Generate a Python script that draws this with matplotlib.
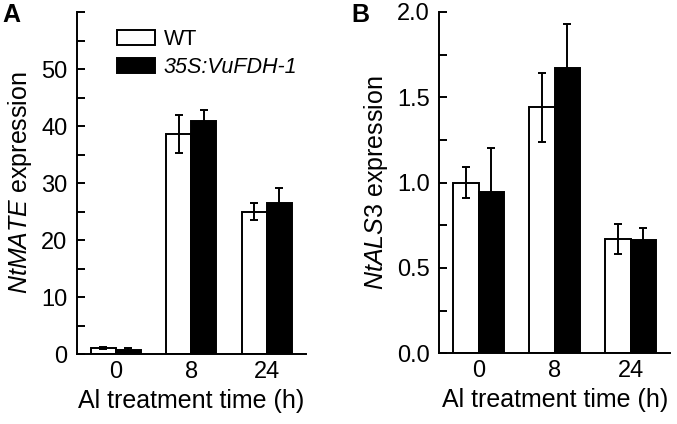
import matplotlib
matplotlib.use("Agg")
import matplotlib.pyplot as plt
import numpy as np

plt.rcParams['font.family'] = ['Liberation Sans', 'DejaVu Sans']
plt.rcParams['mathtext.fontset'] = 'custom'
plt.rcParams['mathtext.rm'] = 'Liberation Sans'
plt.rcParams['mathtext.it'] = 'Liberation Sans:italic'

times = ['0', '8', '24']
series = ['WT', '35S:VuFDH-1']

mate_wt = [1.0, 38.6, 25.0]
mate_wt_err = [0.2, 3.4, 1.5]
mate_tg = [0.7, 40.9, 26.5]
mate_tg_err = [0.4, 1.9, 2.7]

als_wt = [1.0, 1.44, 0.67]
als_wt_err = [0.09, 0.20, 0.09]
als_tg = [0.945, 1.67, 0.665]
als_tg_err = [0.26, 0.26, 0.07]

mate_ticklabels = ['0', '10', '20', '30', '40', '50', '']
als_ticklabels = ['0.0', '0.5', '1.0', '1.5', '2.0']

fig = plt.figure(figsize=(6.77, 4.24), dpi=100)
axA = fig.add_axes([0.1137, 0.165, 0.452 - 0.1137, 0.9717 - 0.165])
axB = fig.add_axes([0.649, 0.1667, 0.9897 - 0.649, 0.972 - 0.1667])

TFS = 17
LFS = 18
LW = 1.4
w = 0.33
x = np.arange(len(times))

def panel(ax, wt, wte, tg, tge, ylim, major, minor, ylabel_it, ticklabels):
    ax.bar(x - w/2, wt, w, color='white', edgecolor='black', linewidth=LW, zorder=2, label=series[0])
    ax.bar(x + w/2, tg, w, color='black', edgecolor='black', linewidth=LW, zorder=2, label=series[1])
    ax.errorbar(x - w/2, wt, yerr=wte, fmt='none', ecolor='black', elinewidth=LW, capsize=3, capthick=LW, zorder=3)
    ax.errorbar(x + w/2, tg, yerr=tge, fmt='none', ecolor='black', elinewidth=LW, capsize=3, capthick=LW, zorder=3)
    ax.set_xlim(-0.515, 2.52)
    ax.set_ylim(*ylim)
    ax.set_yticks(np.arange(ylim[0], ylim[1] + 1e-9, major))
    ax.set_yticks(np.arange(ylim[0], ylim[1] + 1e-9, minor), minor=True)
    ax.set_yticklabels(ticklabels)
    ax.set_xticks(x)
    ax.set_xticklabels(times)
    ax.spines['top'].set_visible(False)
    ax.spines['right'].set_visible(False)
    ax.spines['left'].set_linewidth(LW)
    ax.spines['bottom'].set_linewidth(LW)
    ax.tick_params(axis='y', which='both', direction='in', length=6, width=LW, labelsize=TFS, pad=7)
    ax.tick_params(axis='x', length=0, labelsize=TFS, pad=5)
    ax.set_xlabel('Al treatment time (h)', fontsize=LFS, labelpad=4)
    ax.set_ylabel(r'$\mathit{' + ylabel_it + '}$ expression', fontsize=LFS, labelpad=5)

panel(axA, mate_wt, mate_wt_err, mate_tg, mate_tg_err, (0, 60), 10, 5, 'NtMATE', mate_ticklabels)
panel(axB, als_wt, als_wt_err, als_tg, als_tg_err, (0, 2.0), 0.5, 0.25, 'NtALS3', als_ticklabels)

leg = axA.legend(loc='upper left', bbox_to_anchor=(117 / 677, 1 - 29 / 424), bbox_transform=fig.transFigure,
                 frameon=False, fontsize=15.5, handlelength=1.78, handleheight=0.72,
                 labelspacing=0.32, handletextpad=0.4, borderaxespad=0.0, borderpad=0.0)
leg.get_texts()[1].set_fontstyle('italic')

fig.text(0.003, 0.993, 'A', fontsize=18, fontweight='bold', va='top', ha='left')
fig.text(0.519, 0.993, 'B', fontsize=18, fontweight='bold', va='top', ha='left')

fig.savefig('out.png', dpi=100)
